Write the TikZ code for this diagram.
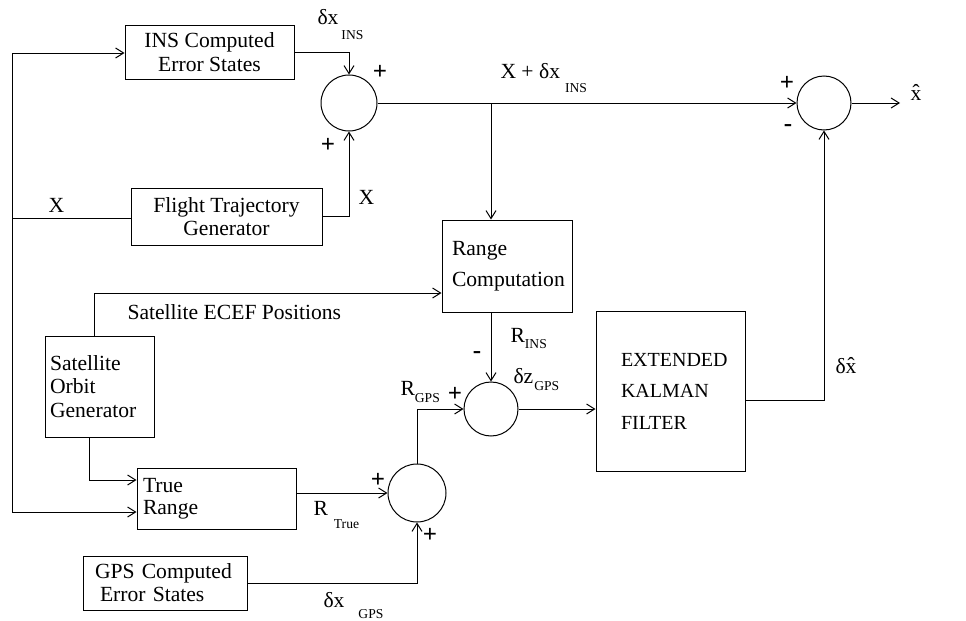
\documentclass[tikz,border=0pt]{standalone}
\usepackage{fontspec}
\setmainfont{Liberation Serif}
\usepackage{tikz}
\usetikzlibrary{arrows.meta, positioning, calc}
% lowered subscript: gap, drop, text
\newcommand{\lowsub}[3]{\hspace{#1}\raisebox{-#2}{\fontsize{6.8}{7}\selectfont #3}}

\begin{document}
\begin{tikzpicture}[x=0.5pt, y=-0.5pt, >={Straight Barb[length=4pt,width=5pt]}, line width=0.5pt,
    font=\fontsize{10.8}{12}\selectfont,
    blk/.style={draw, inner sep=0pt, align=center},
    sumpt/.style={draw, circle, minimum size=28pt, inner sep=0pt},
    lbl/.style={inner sep=0pt, anchor=base west},
    sgn/.style={inner sep=0pt, font=\fontsize{12.5}{13}\selectfont\bfseries}]
        \useasboundingbox (0,0) rectangle (966,621);
        % Blocks
        \node[blk, minimum width=84.5pt, minimum height=27pt] (ins) at (209.5,52) {INS Computed\\Error States};
        \node[blk, minimum width=95.5pt, minimum height=28.5pt, font=\fontsize{10.8}{11.5}\selectfont] (flight) at (226.5,216.5) {Flight Trajectory\\Generator};
        \node[blk, minimum width=65pt, minimum height=46pt, text width=55pt, align=left, font=\fontsize{10.8}{15.5}\selectfont] (range) at (507,266) {Range\\Computation};
        \node[blk, minimum width=54.5pt, minimum height=50.5pt, text width=49.5pt, align=left, font=\fontsize{10.8}{11.75}\selectfont] (sat) at (99.5,386.5) {Satellite\\Orbit\\Generator};
        \node[blk, minimum width=79.5pt, minimum height=30.5pt, text width=73.5pt, align=left, font=\fontsize{10.8}{11}\selectfont] (truer) at (216.5,498.5) {True\\Range};
        \node[blk, minimum width=82pt, minimum height=27pt, text width=70pt, align=left, font=\fontsize{10.8}{11.5}\selectfont] (gps) at (165,583) {GPS Computed\\\hspace{2.5pt}Error States};
        \node[blk, minimum width=74.5pt, minimum height=80pt, text width=49.5pt, align=left, font=\fontsize{10}{15.75}\selectfont] (ekf) at (670.5,391) {EXTENDED\\KALMAN\\FILTER};
        % Summing points
        \node[sumpt] (s1) at (349,103) {};
        \node[sumpt, minimum size=27pt] (s2) at (491,409) {};
        \node[sumpt, minimum size=29pt] (s3) at (417,493) {};
        \node[sumpt, minimum size=27pt] (s4) at (824,103) {};
        % Free ends
        \coordinate (bustop) at (12,53);
        \coordinate (busmid) at (12,218);
        \coordinate (busbot) at (12,512);
        \coordinate (br) at (491,103);
        \coordinate (out) at (900,103);
        \coordinate (ecef) at (94,293);
        \coordinate (orb) at (89,480);
        \coordinate (fb) at (824,400);
        % Trajectory bus
        \draw[->] (busbot) -- (bustop) -- (bustop -| ins.west);
        \draw (busmid) -- (busmid -| flight.west);
        \draw[->] (busbot) -- (busbot -| truer.west);
        % INS branch
        \draw[->] (ins.east) -| (s1.north);
        \draw[->] (flight.east) -| (s1.south);
        \draw[->] (s1.east) -- (s4.west);
        \draw[->] (br) -- (br |- range.north);
        \draw[->] (s4.east) -- (out);
        % Satellites
        \draw[->] (ecef |- sat.north) -- (ecef) -- (ecef -| range.west);
        \draw[->] (orb |- sat.south) -- (orb) -- (orb -| truer.west);
        % GPS measurement
        \draw[->] (s3.west -| truer.east) -- (s3.west);
        \draw[->] (gps.east) -| (s3.south);
        \draw[->] (s3.north) |- (s2.west);
        \draw[->] (s2.north |- range.south) -- (s2.north);
        \draw[->] (s2.east) -- (s2.east -| ekf.west);
        \draw[->] (fb -| ekf.east) -- (fb) -- (s4.south);
        % Labels
        \node[lbl] (lins) at (317,25) {δx\lowsub{1.5pt}{7.5pt}{INS}};
        \node[lbl] (lx1) at (48,212) {X};
        \node[lbl] (lx2) at (358,204) {X};
        \node[lbl] (lsum) at (500,78) {X + δx\lowsub{2.5pt}{7pt}{INS}};
        \node[lbl] (lhat) at (910,100) {x̂};
        \node[lbl] (ldhat) at (835,373) {δx̂};
        \node[lbl] (lrins) at (510,342) {R\lowsub{0pt}{3pt}{INS}};
        \node[lbl] (ldz) at (513,383) {δz\lowsub{0.5pt}{3.5pt}{GPS}};
        \node[lbl] (lrgps) at (400,395) {R\lowsub{0pt}{3.5pt}{GPS}};
        \node[lbl] (lrtrue) at (313,515) {R\lowsub{3pt}{6.5pt}{True}};
        \node[lbl] (ldgps) at (323,607) {δx\lowsub{7pt}{5.5pt}{GPS}};
        \node[lbl] (lecef) at (127,319) {Satellite ECEF Positions};
        % Signs
        \node[sgn] (p1) at (380,72) {+};
        \node[sgn] (p2) at (328,145) {+};
        \node[sgn] (p3) at (787,83) {+};
        \node[sgn] (m1) at (788,128) {-};
        \node[sgn] (m2) at (477,355) {-};
        \node[sgn] (p4) at (455,394) {+};
        \node[sgn] (p5) at (378,480) {+};
        \node[sgn] (p6) at (430,535) {+};
    \end{tikzpicture}
\end{document}
